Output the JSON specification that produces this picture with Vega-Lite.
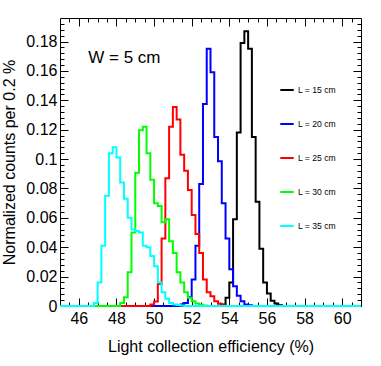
{
  "$schema": "https://vega.github.io/schema/vega-lite/v6.json",
  "width": 301,
  "height": 288,
  "autosize": {"type": "none"},
  "padding": {"left": 60, "top": 18, "right": 20, "bottom": 60},
  "background": "white",
  "config": {
    "view": {"stroke": "black", "strokeWidth": 1},
    "axis": {"grid": false, "domain": false, "tickColor": "black", "tickWidth": 1, "labelColor": "black", "titleColor": "black", "labelFont": "Liberation Sans", "titleFont": "Liberation Sans", "titleFontWeight": "normal"},
    "text": {"font": "Liberation Sans"}
  },
  "datasets": {
    "h": [
      {"series": "L = 15 cm", "eff": 45, "frac": 0},
      {"series": "L = 15 cm", "eff": 53.6, "frac": 0.001},
      {"series": "L = 15 cm", "eff": 53.8, "frac": 0.0056},
      {"series": "L = 15 cm", "eff": 54.0, "frac": 0.016},
      {"series": "L = 15 cm", "eff": 54.2, "frac": 0.059},
      {"series": "L = 15 cm", "eff": 54.4, "frac": 0.118},
      {"series": "L = 15 cm", "eff": 54.6, "frac": 0.179},
      {"series": "L = 15 cm", "eff": 54.8, "frac": 0.187},
      {"series": "L = 15 cm", "eff": 55.0, "frac": 0.175},
      {"series": "L = 15 cm", "eff": 55.2, "frac": 0.115},
      {"series": "L = 15 cm", "eff": 55.4, "frac": 0.071},
      {"series": "L = 15 cm", "eff": 55.6, "frac": 0.039},
      {"series": "L = 15 cm", "eff": 55.8, "frac": 0.016},
      {"series": "L = 15 cm", "eff": 56.0, "frac": 0.0085},
      {"series": "L = 15 cm", "eff": 56.2, "frac": 0.0035},
      {"series": "L = 15 cm", "eff": 56.4, "frac": 0.0017},
      {"series": "L = 15 cm", "eff": 56.6, "frac": 0.0005},
      {"series": "L = 15 cm", "eff": 56.8, "frac": 0},
      {"series": "L = 15 cm", "eff": 61, "frac": 0},
      {"series": "L = 20 cm", "eff": 45, "frac": 0},
      {"series": "L = 20 cm", "eff": 51.4, "frac": 0.001},
      {"series": "L = 20 cm", "eff": 51.6, "frac": 0.002},
      {"series": "L = 20 cm", "eff": 51.8, "frac": 0.006},
      {"series": "L = 20 cm", "eff": 52.0, "frac": 0.018},
      {"series": "L = 20 cm", "eff": 52.2, "frac": 0.041},
      {"series": "L = 20 cm", "eff": 52.4, "frac": 0.083},
      {"series": "L = 20 cm", "eff": 52.6, "frac": 0.1375},
      {"series": "L = 20 cm", "eff": 52.8, "frac": 0.175},
      {"series": "L = 20 cm", "eff": 53.0, "frac": 0.159},
      {"series": "L = 20 cm", "eff": 53.2, "frac": 0.115},
      {"series": "L = 20 cm", "eff": 53.4, "frac": 0.0985},
      {"series": "L = 20 cm", "eff": 53.6, "frac": 0.070},
      {"series": "L = 20 cm", "eff": 53.8, "frac": 0.046},
      {"series": "L = 20 cm", "eff": 54.0, "frac": 0.025},
      {"series": "L = 20 cm", "eff": 54.2, "frac": 0.0135},
      {"series": "L = 20 cm", "eff": 54.4, "frac": 0.007},
      {"series": "L = 20 cm", "eff": 54.6, "frac": 0.0033},
      {"series": "L = 20 cm", "eff": 54.8, "frac": 0.001},
      {"series": "L = 20 cm", "eff": 55.0, "frac": 0.0005},
      {"series": "L = 20 cm", "eff": 55.2, "frac": 0},
      {"series": "L = 20 cm", "eff": 61, "frac": 0},
      {"series": "L = 25 cm", "eff": 45, "frac": 0},
      {"series": "L = 25 cm", "eff": 49.8, "frac": 0.001},
      {"series": "L = 25 cm", "eff": 50.0, "frac": 0.003},
      {"series": "L = 25 cm", "eff": 50.2, "frac": 0.015},
      {"series": "L = 25 cm", "eff": 50.4, "frac": 0.046},
      {"series": "L = 25 cm", "eff": 50.6, "frac": 0.087},
      {"series": "L = 25 cm", "eff": 50.8, "frac": 0.122},
      {"series": "L = 25 cm", "eff": 51.0, "frac": 0.1355},
      {"series": "L = 25 cm", "eff": 51.2, "frac": 0.127},
      {"series": "L = 25 cm", "eff": 51.4, "frac": 0.103},
      {"series": "L = 25 cm", "eff": 51.6, "frac": 0.092},
      {"series": "L = 25 cm", "eff": 51.8, "frac": 0.079},
      {"series": "L = 25 cm", "eff": 52.0, "frac": 0.062},
      {"series": "L = 25 cm", "eff": 52.2, "frac": 0.049},
      {"series": "L = 25 cm", "eff": 52.4, "frac": 0.036},
      {"series": "L = 25 cm", "eff": 52.6, "frac": 0.018},
      {"series": "L = 25 cm", "eff": 52.8, "frac": 0.0094},
      {"series": "L = 25 cm", "eff": 53.0, "frac": 0.0067},
      {"series": "L = 25 cm", "eff": 53.2, "frac": 0.0033},
      {"series": "L = 25 cm", "eff": 53.4, "frac": 0.0015},
      {"series": "L = 25 cm", "eff": 53.6, "frac": 0.0005},
      {"series": "L = 25 cm", "eff": 53.8, "frac": 0},
      {"series": "L = 25 cm", "eff": 61, "frac": 0},
      {"series": "L = 30 cm", "eff": 45, "frac": 0},
      {"series": "L = 30 cm", "eff": 48.2, "frac": 0.002},
      {"series": "L = 30 cm", "eff": 48.4, "frac": 0.006},
      {"series": "L = 30 cm", "eff": 48.6, "frac": 0.023},
      {"series": "L = 30 cm", "eff": 48.8, "frac": 0.050},
      {"series": "L = 30 cm", "eff": 49.0, "frac": 0.0906},
      {"series": "L = 30 cm", "eff": 49.2, "frac": 0.1196},
      {"series": "L = 30 cm", "eff": 49.4, "frac": 0.122},
      {"series": "L = 30 cm", "eff": 49.6, "frac": 0.104},
      {"series": "L = 30 cm", "eff": 49.8, "frac": 0.086},
      {"series": "L = 30 cm", "eff": 50.0, "frac": 0.070},
      {"series": "L = 30 cm", "eff": 50.2, "frac": 0.068},
      {"series": "L = 30 cm", "eff": 50.4, "frac": 0.057},
      {"series": "L = 30 cm", "eff": 50.6, "frac": 0.059},
      {"series": "L = 30 cm", "eff": 50.8, "frac": 0.044},
      {"series": "L = 30 cm", "eff": 51.0, "frac": 0.036},
      {"series": "L = 30 cm", "eff": 51.2, "frac": 0.023},
      {"series": "L = 30 cm", "eff": 51.4, "frac": 0.016},
      {"series": "L = 30 cm", "eff": 51.6, "frac": 0.0094},
      {"series": "L = 30 cm", "eff": 51.8, "frac": 0.0056},
      {"series": "L = 30 cm", "eff": 52.0, "frac": 0.0033},
      {"series": "L = 30 cm", "eff": 52.2, "frac": 0.0017},
      {"series": "L = 30 cm", "eff": 52.4, "frac": 0.0008},
      {"series": "L = 30 cm", "eff": 52.6, "frac": 0.0003},
      {"series": "L = 30 cm", "eff": 52.8, "frac": 0},
      {"series": "L = 30 cm", "eff": 61, "frac": 0},
      {"series": "L = 35 cm", "eff": 45, "frac": 0},
      {"series": "L = 35 cm", "eff": 46.8, "frac": 0.002},
      {"series": "L = 35 cm", "eff": 47.0, "frac": 0.016},
      {"series": "L = 35 cm", "eff": 47.2, "frac": 0.041},
      {"series": "L = 35 cm", "eff": 47.4, "frac": 0.075},
      {"series": "L = 35 cm", "eff": 47.6, "frac": 0.104},
      {"series": "L = 35 cm", "eff": 47.8, "frac": 0.108},
      {"series": "L = 35 cm", "eff": 48.0, "frac": 0.101},
      {"series": "L = 35 cm", "eff": 48.2, "frac": 0.084},
      {"series": "L = 35 cm", "eff": 48.4, "frac": 0.073},
      {"series": "L = 35 cm", "eff": 48.6, "frac": 0.060},
      {"series": "L = 35 cm", "eff": 48.8, "frac": 0.052},
      {"series": "L = 35 cm", "eff": 49.0, "frac": 0.051},
      {"series": "L = 35 cm", "eff": 49.2, "frac": 0.050},
      {"series": "L = 35 cm", "eff": 49.4, "frac": 0.041},
      {"series": "L = 35 cm", "eff": 49.6, "frac": 0.040},
      {"series": "L = 35 cm", "eff": 49.8, "frac": 0.034},
      {"series": "L = 35 cm", "eff": 50.0, "frac": 0.027},
      {"series": "L = 35 cm", "eff": 50.2, "frac": 0.016},
      {"series": "L = 35 cm", "eff": 50.4, "frac": 0.0094},
      {"series": "L = 35 cm", "eff": 50.6, "frac": 0.005},
      {"series": "L = 35 cm", "eff": 50.8, "frac": 0.002},
      {"series": "L = 35 cm", "eff": 51.0, "frac": 0.001},
      {"series": "L = 35 cm", "eff": 51.2, "frac": 0.0007},
      {"series": "L = 35 cm", "eff": 51.4, "frac": 0.0003},
      {"series": "L = 35 cm", "eff": 51.6, "frac": 0},
      {"series": "L = 35 cm", "eff": 61, "frac": 0}
    ]
  },
  "resolve": {"axis": {"x": "independent", "y": "independent"}},
  "layer": [
    {
      "data": {"name": "h"},
      "mark": {"type": "line", "interpolate": "step-after", "strokeWidth": 2, "clip": false},
      "encoding": {
        "x": {"field": "eff", "type": "quantitative",
          "scale": {"domain": [45, 61], "nice": false, "zero": false},
          "axis": {"orient": "bottom", "ticks": false, "values": [46, 48, 50, 52, 54, 56, 58, 60], "format": "d", "labelFontSize": 16, "labelPadding": 4, "title": "Light collection efficiency (%)", "titleFontSize": 16, "titlePadding": 12}},
        "y": {"field": "frac", "type": "quantitative",
          "scale": {"domain": [0, 0.196], "nice": false},
          "axis": {"orient": "left", "ticks": false, "values": [0, 0.02, 0.04, 0.06, 0.08, 0.1, 0.12, 0.14, 0.16, 0.18], "format": "~g", "labelFontSize": 16, "labelPadding": 3, "title": "Normalized counts per 0.2 %", "titleFontSize": 16, "titlePadding": 8}},
        "color": {"field": "series", "type": "nominal",
          "scale": {"domain": ["L = 15 cm", "L = 20 cm", "L = 25 cm", "L = 30 cm", "L = 35 cm"], "range": ["#000000", "#0000ff", "#ff0000", "#00ff00", "#00ffff"]},
          "legend": {"orient": "none", "legendX": 219, "legendY": 64, "title": null, "symbolType": "stroke", "symbolSize": 180, "symbolStrokeWidth": 2, "labelFontSize": 8.6, "labelFont": "Liberation Sans", "labelColor": "black", "rowPadding": 21, "labelOffset": 3, "padding": 0}}
      }
    },
    {
      "data": {"name": "h"},
      "mark": {"type": "point", "opacity": 0},
      "encoding": {
        "x": {"field": "eff", "type": "quantitative", "scale": {"domain": [45, 61], "nice": false, "zero": false},
          "axis": {"orient": "bottom", "labels": false, "title": null, "tickSize": -8, "values": [46, 48, 50, 52, 54, 56, 58, 60]}},
        "y": {"field": "frac", "type": "quantitative", "scale": {"domain": [0, 0.196], "nice": false},
          "axis": {"orient": "left", "labels": false, "title": null, "tickSize": -8, "values": [0, 0.02, 0.04, 0.06, 0.08, 0.1, 0.12, 0.14, 0.16, 0.18]}}
      }
    },
    {
      "data": {"name": "h"},
      "mark": {"type": "point", "opacity": 0},
      "encoding": {
        "x": {"field": "eff", "type": "quantitative", "scale": {"domain": [45, 61], "nice": false, "zero": false},
          "axis": {"orient": "bottom", "labels": false, "title": null, "tickSize": -4, "values": [45.5, 46.5, 47, 47.5, 48.5, 49, 49.5, 50.5, 51, 51.5, 52.5, 53, 53.5, 54.5, 55, 55.5, 56.5, 57, 57.5, 58.5, 59, 59.5, 60.5]}},
        "y": {"field": "frac", "type": "quantitative", "scale": {"domain": [0, 0.196], "nice": false},
          "axis": {"orient": "left", "labels": false, "title": null, "tickSize": -4, "values": [0.004, 0.008, 0.012, 0.016, 0.024, 0.028, 0.032, 0.036, 0.044, 0.048, 0.052, 0.056, 0.064, 0.068, 0.072, 0.076, 0.084, 0.088, 0.092, 0.096, 0.104, 0.108, 0.112, 0.116, 0.124, 0.128, 0.132, 0.136, 0.144, 0.148, 0.152, 0.156, 0.164, 0.168, 0.172, 0.176, 0.184, 0.188, 0.192]}}
      }
    },
    {
      "data": {"name": "h"},
      "mark": {"type": "point", "opacity": 0},
      "encoding": {
        "x": {"field": "eff", "type": "quantitative", "scale": {"domain": [45, 61], "nice": false, "zero": false},
          "axis": {"orient": "top", "labels": false, "title": null, "tickSize": -8, "values": [46, 48, 50, 52, 54, 56, 58, 60]}},
        "y": {"field": "frac", "type": "quantitative", "scale": {"domain": [0, 0.196], "nice": false},
          "axis": {"orient": "right", "labels": false, "title": null, "tickSize": -8, "values": [0, 0.02, 0.04, 0.06, 0.08, 0.1, 0.12, 0.14, 0.16, 0.18]}}
      }
    },
    {
      "data": {"name": "h"},
      "mark": {"type": "point", "opacity": 0},
      "encoding": {
        "x": {"field": "eff", "type": "quantitative", "scale": {"domain": [45, 61], "nice": false, "zero": false},
          "axis": {"orient": "top", "labels": false, "title": null, "tickSize": -4, "values": [45.5, 46.5, 47, 47.5, 48.5, 49, 49.5, 50.5, 51, 51.5, 52.5, 53, 53.5, 54.5, 55, 55.5, 56.5, 57, 57.5, 58.5, 59, 59.5, 60.5]}},
        "y": {"field": "frac", "type": "quantitative", "scale": {"domain": [0, 0.196], "nice": false},
          "axis": {"orient": "right", "labels": false, "title": null, "tickSize": -4, "values": [0.004, 0.008, 0.012, 0.016, 0.024, 0.028, 0.032, 0.036, 0.044, 0.048, 0.052, 0.056, 0.064, 0.068, 0.072, 0.076, 0.084, 0.088, 0.092, 0.096, 0.104, 0.108, 0.112, 0.116, 0.124, 0.128, 0.132, 0.136, 0.144, 0.148, 0.152, 0.156, 0.164, 0.168, 0.172, 0.176, 0.184, 0.188, 0.192]}}
      }
    },
    {
      "data": {"values": [{"eff": 46.5, "frac": 0.1652, "label": "W = 5 cm"}]},
      "mark": {"type": "text", "align": "left", "baseline": "alphabetic", "fontSize": 17, "font": "Liberation Sans", "color": "black"},
      "encoding": {
        "x": {"field": "eff", "type": "quantitative", "scale": {"domain": [45, 61], "nice": false, "zero": false}, "axis": null},
        "y": {"field": "frac", "type": "quantitative", "scale": {"domain": [0, 0.196], "nice": false}, "axis": null},
        "text": {"field": "label"}
      }
    }
  ]
}
